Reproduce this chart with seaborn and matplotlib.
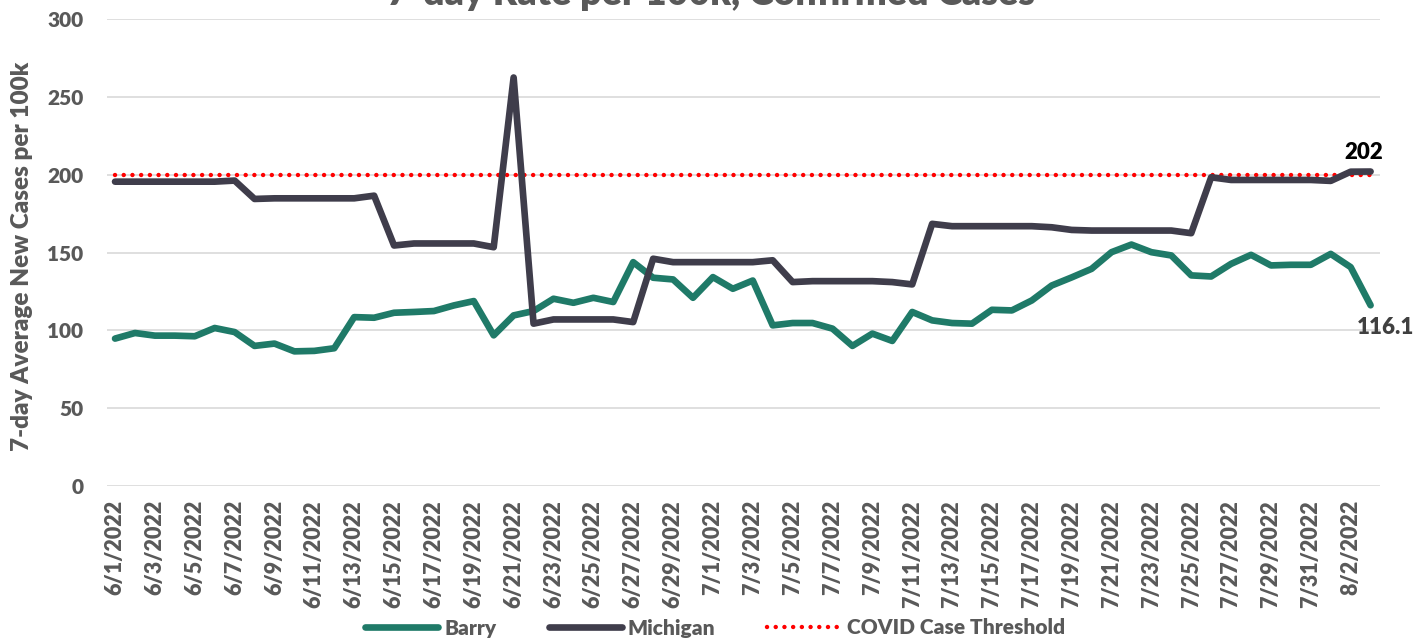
import numpy as np
import pandas as pd
import matplotlib.pyplot as plt
import seaborn as sns

# daily dates 6/1/2022 - 8/3/2022
dates = pd.date_range("2022-06-01", "2022-08-03", freq="D")

# 7-day average new cases per 100k
barry = [94.7, 98.3, 96.6, 96.6, 96.2, 101.5, 98.9, 90.0, 91.5, 86.5,
         86.8, 88.5, 108.5, 108.1, 111.3, 111.8, 112.4, 116.0, 118.8, 96.8,
         109.6, 112.4, 120.3, 117.7, 120.9, 118.2, 143.8, 133.8, 132.7, 120.9,
         134.2, 126.7, 132.0, 103.2, 104.7, 104.7, 101.1, 90.0, 97.9, 93.2,
         111.8, 106.4, 104.7, 104.3, 113.2, 112.8, 119.2, 128.8, 134.0, 139.5,
         150.2, 155.1, 150.2, 148.1, 135.3, 134.6, 142.7, 148.5, 141.7, 142.1,
         142.1, 149.1, 140.6, 116.1]
michigan = [195.5, 195.5, 195.5, 195.5, 195.5, 195.5, 196.2, 184.4, 184.8, 184.8,
            184.8, 184.8, 184.8, 186.5, 154.5, 155.8, 155.8, 155.8, 155.8, 153.4,
            262.4, 104.3, 107.0, 107.0, 107.0, 107.0, 105.3, 146.0, 143.8, 143.8,
            143.8, 143.8, 143.8, 145.0, 131.0, 131.6, 131.6, 131.6, 131.6, 131.0,
            129.5, 168.4, 166.9, 166.9, 166.9, 166.9, 166.9, 166.2, 164.5, 164.1,
            164.1, 164.1, 164.1, 164.1, 162.4, 198.3, 196.6, 196.6, 196.6, 196.6,
            196.6, 196.0, 201.9, 202.0]
threshold = 200

tick_labels = [f"{d.month}/{d.day}/{d.year}" for d in dates]

df = pd.DataFrame({
    "day": np.arange(len(dates)),
    "Barry": barry,
    "Michigan": michigan,
    "COVID Case Threshold": threshold,
})

sns.set_theme(style="white")
plt.rcParams["font.family"] = ["Lato", "DejaVu Sans"]
grey = "#595959"
wt = "heavy"

fig = plt.figure(figsize=(14.2, 6.39), dpi=100)
ax = fig.add_axes([0.0754, 0.2394, 0.8964, 0.7309])

sns.lineplot(data=df, x="day", y="COVID Case Threshold", ax=ax, color="#ff0000",
             linewidth=3.2, linestyle=(0, (0.01, 1.95)), dash_capstyle="round",
             label="COVID Case Threshold", zorder=2)
sns.lineplot(data=df, x="day", y="Barry", ax=ax, color="#1f7a68", linewidth=4.8,
             solid_joinstyle="round", solid_capstyle="round", label="Barry", zorder=3)
sns.lineplot(data=df, x="day", y="Michigan", ax=ax, color="#3f3d4b", linewidth=4.8,
             solid_joinstyle="round", solid_capstyle="round", label="Michigan", zorder=3)

ax.set_ylim(0, 300)
ax.set_xlim(-0.4, 63.47)
ax.set_yticks(range(0, 301, 50))
ax.grid(axis="y", color="#d9d9d9", linewidth=1.2)
ax.set_axisbelow(True)
for s in ax.spines.values():
    s.set_visible(False)

ax.set_xticks(df["day"][::2])
ax.set_xticklabels(tick_labels[::2], rotation=90, fontsize=15.5, fontweight=wt, color=grey)
ax.tick_params(axis="x", length=0, pad=10)
ax.tick_params(axis="y", length=0, pad=17, labelsize=15, labelcolor=grey)
for t in ax.get_yticklabels():
    t.set_fontweight(wt)

ax.set_xlabel("")
ax.set_ylabel("7-day Average New Cases per 100k", fontsize=17.5, fontweight=wt, color=grey)
ax.yaxis.set_label_coords(-0.058, 0.4925)

ax.annotate(f"{michigan[-1]:.0f}", xy=(df["day"].iloc[-1], michigan[-1]), xytext=(-5, 14),
            textcoords="offset points", ha="center", va="center",
            fontsize=16, fontweight=wt, color="black")
ax.annotate(f"{barry[-1]:.1f}", xy=(df["day"].iloc[-1], barry[-1]), xytext=(11, -16),
            textcoords="offset points", ha="center", va="center",
            fontsize=16, fontweight=wt, color="#404040")

fig.text(0.5007, 1 - 5 / 639, "7-day Rate per 100k, Confirmed Cases", ha="center",
         va="baseline", fontsize=27, fontweight=wt, color=grey)

handles, labels = ax.get_legend_handles_labels()
order = [labels.index(n) for n in ["Barry", "Michigan", "COVID Case Threshold"]]
ax.get_legend().remove()
fig.legend([handles[i] for i in order], [labels[i] for i in order], loc="center",
           bbox_to_anchor=(715 / 1420, 1 - 628 / 639), ncol=3, frameon=False,
           handlelength=3.5, columnspacing=2.5, handletextpad=0.3,
           prop={"size": 15, "weight": wt}, labelcolor=grey)

fig.savefig("out.png", dpi=100)
